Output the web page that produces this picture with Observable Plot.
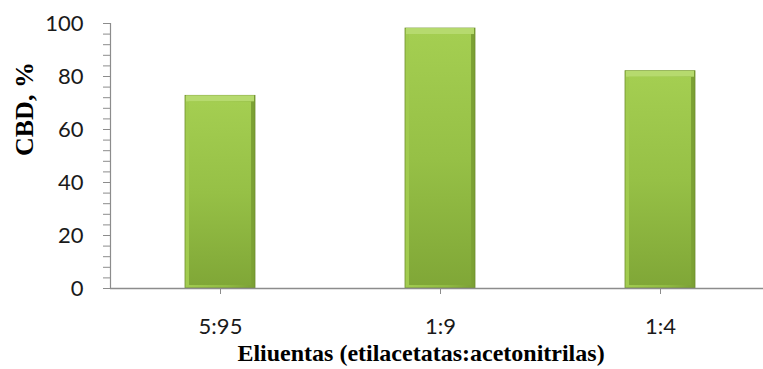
<!DOCTYPE html>
<html>
<head>
<meta charset="utf-8">
<script src="https://cdn.jsdelivr.net/npm/d3@7"></script>
<script src="https://cdn.jsdelivr.net/npm/@observablehq/plot@0.6"></script>
<style>
  html, body { margin: 0; padding: 0; background: #fff; }
</style>
</head>
<body>
<div id="chart"></div>
<script>
// CBD yield for each eluent ratio
const eluents = ["5:95", "1:9", "1:4"];
const cbdPercent = [72.7, 98.1, 82.0];
const yTicks = [0, 20, 40, 60, 80, 100];
const yMinorTicks = d3.range(0, 101, 4);

const data = eluents.map((e, i) => ({eluent: e, value: cbdPercent[i]}));

const axisColor = "#8c8c8c";
const tickFont = "Lato, 'Open Sans', sans-serif";
const titleFont = "'Liberation Serif', 'Times New Roman', serif";

const chart = Plot.plot({
  width: 763,
  height: 369,
  marginLeft: 110,
  marginRight: 0,
  marginTop: 23,
  marginBottom: 81,
  style: {background: "#fff", fontFamily: tickFont, fontSize: "22px", color: "#1a1a1a"},
  x: {domain: eluents, range: [110, 770], paddingInner: 0.682, paddingOuter: 0.341, align: 0.5},
  y: {domain: [0, 100], label: null},
  marks: [
    // bar body with darker rim and a soft shadow
    Plot.barY(data, {x: "eluent", y: "value", fill: "url(#barRim)", stroke: "#6f8f2e", strokeWidth: 0.8, style: "filter: drop-shadow(1.5px 1px 1.5px rgba(0,0,0,0.35))"}),
    // light top bevel
    Plot.barY(data, {x: "eluent", y1: "value", y2: "value", insetBottom: -6, insetLeft: 1, insetRight: 1, fill: "#b6da6e"}),
    // face of the bar
    Plot.barY(data, {x: "eluent", y: "value", insetLeft: 4, insetRight: 4, insetTop: 6, insetBottom: 3, fill: "url(#barFace)"}),
    Plot.frame({anchor: "left", stroke: axisColor, strokeWidth: 1.2}),
    Plot.ruleY([0], {stroke: axisColor, strokeWidth: 1.6}),
    Plot.axisY(yMinorTicks, {tickSize: 7, tickFormat: () => "", stroke: axisColor, label: null}),
    Plot.axisY(yTicks, {tickSize: 7, tickPadding: 20, stroke: axisColor, label: null, fill: "#1a1a1a"}),
    Plot.axisX({tickSize: 6, tickPadding: 24, stroke: axisColor, label: null, fill: "#1a1a1a"}),
    Plot.text(["Eliuentas (etilacetatas:acetonitrilas)"], {
      frameAnchor: "bottom", dx: -16, dy: 72,
      fontFamily: titleFont, fontWeight: "bold", fontSize: 24, fill: "#000"
    }),
    Plot.text(["CBD, %"], {
      frameAnchor: "left", dx: -86, rotate: -90,
      fontFamily: titleFont, fontWeight: "bold", fontSize: 26, fill: "#000"
    })
  ]
});

// gradients used by the bars
const ns = "http://www.w3.org/2000/svg";
const defs = document.createElementNS(ns, "defs");
defs.innerHTML = `
  <linearGradient id="barRim" x1="0" y1="0" x2="1" y2="0">
    <stop offset="0" stop-color="#a2cc50"/>
    <stop offset="0.6" stop-color="#90ba42"/>
    <stop offset="1" stop-color="#7a9f33"/>
  </linearGradient>
  <linearGradient id="barFace" x1="0" y1="0" x2="0" y2="1">
    <stop offset="0" stop-color="#a4ce51"/>
    <stop offset="0.5" stop-color="#96c046"/>
    <stop offset="1" stop-color="#80a737"/>
  </linearGradient>`;
chart.insertBefore(defs, chart.firstChild);

document.getElementById("chart").appendChild(chart);
</script>
</body>
</html>
